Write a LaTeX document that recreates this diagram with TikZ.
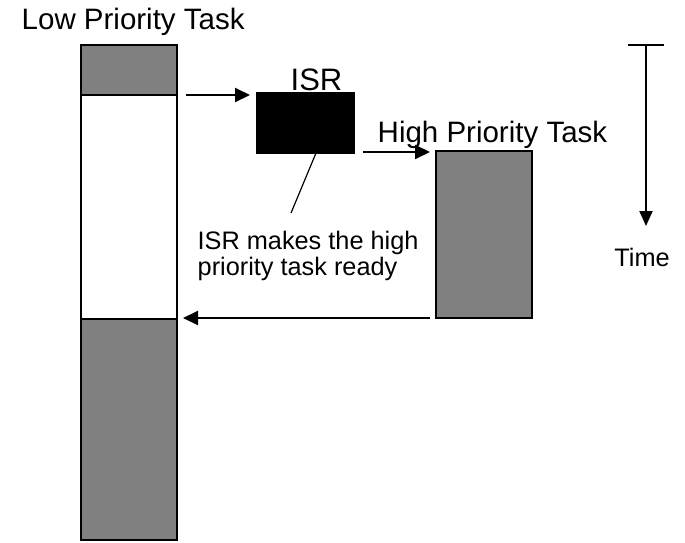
\documentclass[tikz,border=0pt]{standalone}
\usepackage{fontspec}
\setmainfont{Liberation Sans}
\usetikzlibrary{arrows.meta}
\definecolor{taskgray}{RGB}{128,128,128}
\begin{document}
\begin{tikzpicture}[x=1pt,y=-1pt,
  block/.style={draw=black,line width=2.6pt,inner sep=0pt,outer sep=0pt,minimum width=96pt},
  flow/.style={line width=2pt,-{Triangle[length=15pt,width=14pt]}},
  big/.style={font=\fontsize{29.5}{34}\selectfont,inner sep=0pt},
  small/.style={font=\fontsize{25.3}{25.6}\selectfont,inner sep=0pt}]
\useasboundingbox (0,0) rectangle (685,542);

% low priority task timeline
\node[block,fill=taskgray,minimum height=50pt] (lowtop) at (129,70) {};
\node[inner sep=0pt,outer sep=0pt,minimum width=96pt,minimum height=224pt,fill=white] (lowmid) at (129,207) {};
\draw[line width=2pt] (lowmid.north west) -- (lowmid.south west);
\draw[line width=2pt] (lowmid.north east) -- (lowmid.south east);
\node[block,fill=taskgray,minimum height=221pt] (lowbot) at (129,429.5) {};
\draw[line width=2.6pt] (lowtop.south west) -- (lowtop.south east);
\node[big,anchor=base west] (lowlbl) at (21.5,29.5) {Low Priority Task};

% interrupt service routine
\node[block,fill=black,minimum width=97pt,minimum height=60pt] (isr) at (305.5,123) {};
\node[big,font=\fontsize{31}{34}\selectfont,anchor=base] (isrlbl) at (316.5,90) {ISR};

% high priority task
\node[block,fill=taskgray,minimum height=167pt] (high) at (484,234.5) {};
\node[big,anchor=base west] (highlbl) at (377.5,142) {High Priority Task};

% context switches
\draw[flow] ([xshift=9pt]lowtop.south east) -- ([xshift=-7pt,yshift=-2pt]isr.north west);
\draw[flow] ([xshift=9pt,yshift=1pt]isr.south east) -- ([xshift=-6pt,yshift=-1pt]high.north west);
\draw[flow] ([xshift=-6pt]high.south west) -- ([xshift=6pt,yshift=1pt]lowmid.south east);

% annotation
\node[small,anchor=north west,align=left] (note) at (197.5,231)
  {ISR makes the high\\priority task ready};
\coordinate (noteend) at (291,213);
\draw[line width=1.2pt] ([xshift=10.5pt]isr.south) -- (noteend);

% time axis
\coordinate (ttop) at (646,45);
\coordinate (tbot) at (646,226);
\coordinate (tl) at (628,45);
\coordinate (tr) at (664,45);
\draw[line width=2pt] (tl) -- (tr);
\draw[line width=2pt,-{Triangle[length=15pt,width=13pt]}] (ttop) -- (tbot);
\node[small,anchor=base] (timelbl) at (642,266) {Time};
\end{tikzpicture}
\end{document}
